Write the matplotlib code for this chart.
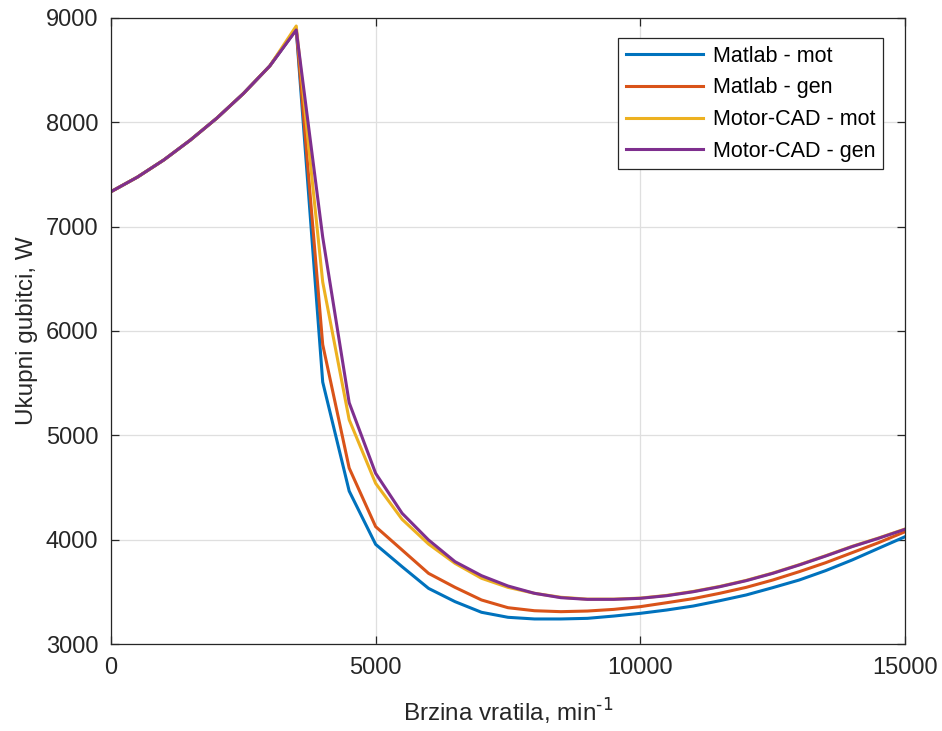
import numpy as np
import matplotlib.pyplot as plt

plt.rcParams['font.family'] = ['Liberation Sans', 'DejaVu Sans']

# brzina vratila, min^-1
n = np.arange(0, 15001, 500)

rise = [7335, 7475, 7640, 7830, 8040, 8275, 8540]

matlab_mot = rise + [8890, 5511, 4466, 3955, 3741, 3533, 3406, 3304, 3256, 3240,
                     3240, 3246, 3268, 3294, 3326, 3364, 3415, 3470, 3540, 3613,
                     3703, 3805, 3917, 4028]
matlab_gen = rise + [8895, 5870, 4687, 4125, 3901, 3677, 3543, 3422, 3348, 3319,
                     3310, 3316, 3332, 3358, 3396, 3435, 3486, 3543, 3613, 3693,
                     3779, 3875, 3971, 4076]
mcad_mot = rise + [8923, 6470, 5150, 4540, 4195, 3958, 3773, 3630, 3543, 3486,
                   3448, 3430, 3430, 3440, 3466, 3504, 3552, 3610, 3680, 3760,
                   3846, 3936, 4016, 4102]
mcad_gen = rise + [8885, 6900, 5313, 4636, 4253, 3997, 3789, 3655, 3556, 3486,
                   3444, 3428, 3428, 3438, 3463, 3501, 3549, 3607, 3677, 3757,
                   3843, 3933, 4013, 4099]

labels = ['Matlab - mot', 'Matlab - gen', 'Motor-CAD - mot', 'Motor-CAD - gen']
colors = ['#0072BD', '#D95319', '#EDB120', '#7E2F8E']

fig = plt.figure(figsize=(9.42, 7.31), dpi=100)
ax = fig.add_axes([0.1178, 0.119, 0.8429, 0.8564])

for y, lab, c in zip([matlab_mot, matlab_gen, mcad_mot, mcad_gen], labels, colors):
    ax.plot(n, y, color=c, lw=2.2, label=lab)

ax.set_xlim(0, 15000)
ax.set_ylim(3000, 9000)
ax.set_xticks([0, 5000, 10000, 15000])
ax.set_yticks(range(3000, 9001, 1000))
ax.grid(True, color='#dfdfdf', lw=0.9)
ax.set_axisbelow(True)

axc = '#262626'
for s in ax.spines.values():
    s.set_color(axc)
    s.set_linewidth(0.9)
ax.tick_params(direction='in', length=6, width=0.9, colors=axc,
               labelsize=17, top=True, right=True, pad=9)

ax.set_xlabel('Brzina vratila, min$^{\\text{-1}}$', fontsize=17.5,
              color=axc, labelpad=13)
ax.set_ylabel('Ukupni gubitci, W', fontsize=17.5, color=axc, labelpad=6)

leg = ax.legend(loc='upper right', bbox_to_anchor=(0.972, 0.968), fontsize=15.5,
                fancybox=False, framealpha=1, edgecolor=axc,
                handlelength=3.6, handletextpad=0.45, labelspacing=0.5,
                borderpad=0.35, borderaxespad=0)
leg.get_frame().set_linewidth(0.9)

fig.savefig('out.png', dpi=100)
